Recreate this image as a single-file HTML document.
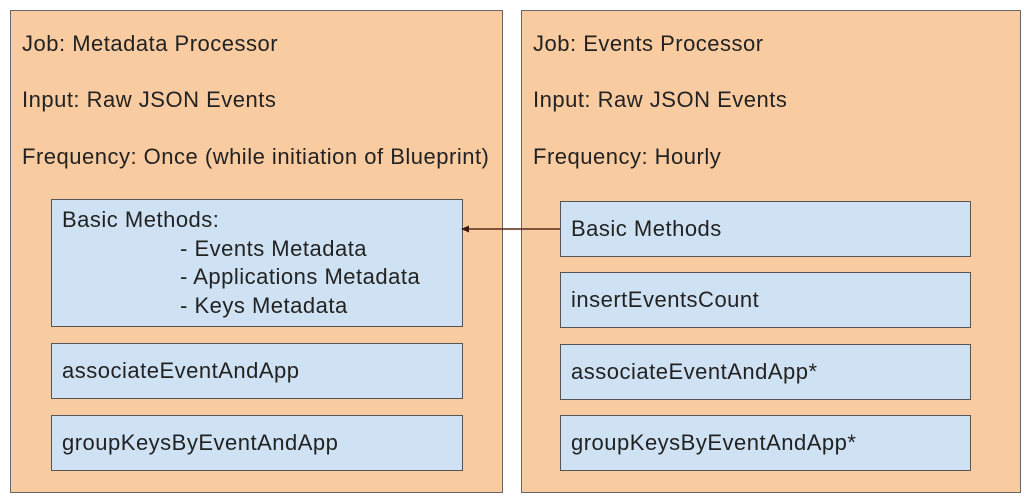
<!DOCTYPE html>
<html><head><style>
body{margin:0;width:1024px;height:502px;background:#fff;position:relative;overflow:hidden;font-family:"Liberation Sans",Arial,sans-serif;color:#222}
.o{position:absolute;background:#f9cba0;border:1.5px solid #666;box-sizing:border-box}
.b{position:absolute;background:#cfe2f3;border:1.5px solid #555;box-sizing:border-box;font-size:22px;letter-spacing:0.5px;padding-left:10px;display:flex;align-items:center}
.t{position:absolute;font-size:22px;letter-spacing:0.5px;white-space:nowrap}
</style></head><body>
<div class="o" style="left:10px;top:10px;width:493px;height:483px"></div>
<div class="o" style="left:521px;top:10px;width:500px;height:483px"></div>
<div class="t" style="left:22px;top:31px">Job: Metadata Processor</div>
<div class="t" style="left:22px;top:87px">Input: Raw JSON Events</div>
<div class="t" style="left:22px;top:144px">Frequency: Once (while initiation of Blueprint)</div>
<div class="t" style="left:533px;top:31px">Job: Events Processor</div>
<div class="t" style="left:533px;top:87px">Input: Raw JSON Events</div>
<div class="t" style="left:533px;top:144px">Frequency: Hourly</div>
<div class="b" style="left:51px;top:199px;width:412px;height:128px;display:block;line-height:28.5px;padding-top:6px">Basic Methods:<br><span style="padding-left:118px">- Events Metadata</span><br><span style="padding-left:118px">- Applications Metadata</span><br><span style="padding-left:118px">- Keys Metadata</span></div>
<div class="b" style="left:51px;top:343px;width:412px;height:56px">associateEventAndApp</div>
<div class="b" style="left:51px;top:415px;width:412px;height:56px">groupKeysByEventAndApp</div>
<div class="b" style="left:560px;top:201px;width:411px;height:56px">Basic Methods</div>
<div class="b" style="left:560px;top:272px;width:411px;height:56px">insertEventsCount</div>
<div class="b" style="left:560px;top:344px;width:411px;height:56px">associateEventAndApp*</div>
<div class="b" style="left:560px;top:415px;width:411px;height:56px">groupKeysByEventAndApp*</div>
<svg style="position:absolute;left:0;top:0" width="1024" height="502"><line x1="560" y1="229" x2="468" y2="229" stroke="#5a2a1a" stroke-width="1.5"/><polygon points="461,229 469,225.5 469,232.5" fill="#3a1a10"/></svg>
</body></html>
